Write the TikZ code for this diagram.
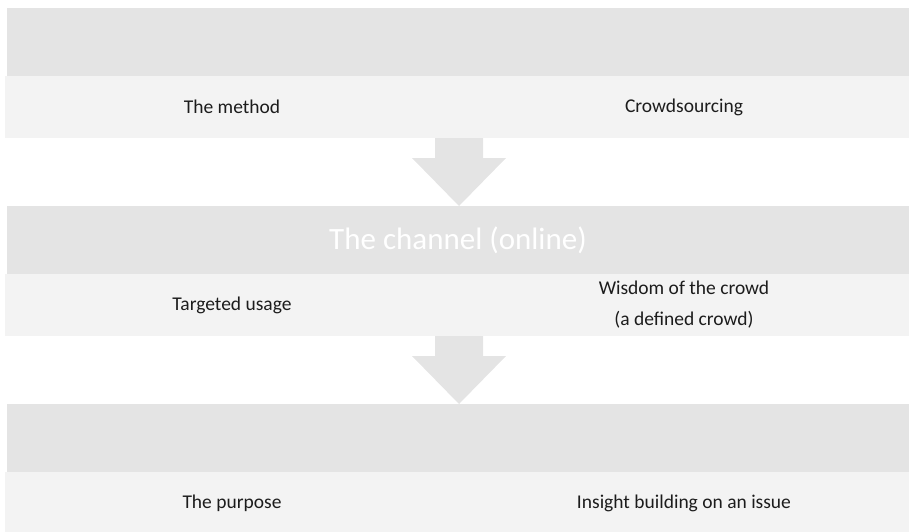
\documentclass[tikz,border=0pt]{standalone}
\usepackage{fontspec}
\setmainfont{Carlito}
\usepackage{tikz}
\usetikzlibrary{positioning, calc}
\definecolor{Band}{HTML}{E4E4E4}
\definecolor{Cell}{HTML}{F3F3F3}
\definecolor{Ink}{HTML}{1C1C1C}
\tikzset{
  headbox/.style={rectangle, fill=Band, inner sep=0pt, outer sep=0pt,
                  minimum width=902pt, minimum height=68pt,
                  font=\fontsize{31}{36}\selectfont, text=white},
  cellbox/.style={rectangle, fill=Cell, inner sep=0pt, outer sep=0pt,
                  minimum width=454pt, minimum height=62pt,
                  font=\fontsize{19.5}{31}\selectfont, text=Ink, align=center},
}

\begin{document}
\begin{tikzpicture}[
        flowarr/.style={fill=Band}
      ]
        \useasboundingbox (0,0) rectangle (909pt,-531pt);
        % first band: method
        \node[headbox, anchor=north west] (hd1) at (7pt,-8pt) {};
        \node[cellbox, below=0pt of hd1.south west, anchor=north west, xshift=-2pt] (m1) {The method};
        \node[cellbox, minimum width=450pt, right=0pt of m1] (c1) {Crowdsourcing};
        % second band: channel
        \node[headbox, below=68pt of m1.south west, anchor=north west, xshift=2pt] (hd2) {The channel (online)};
        \node[cellbox, below=0pt of hd2.south west, anchor=north west, xshift=-2pt] (t2) {Targeted usage};
        \node[cellbox, minimum width=450pt, right=0pt of t2] (w2) {Wisdom of the crowd\\(a defined crowd)};
        % third band: purpose
        \node[headbox, below=68pt of t2.south west, anchor=north west, xshift=2pt] (hd3) {};
        \node[cellbox, below=0pt of hd3.south west, anchor=north west, xshift=-2pt] (p3) {The purpose};
        \node[cellbox, minimum width=450pt, right=0pt of p3] (i3) {Insight building on an issue};
        % block arrows between the bands
        \fill[flowarr] ($(m1.south east)+(-24pt,0)$) -- ($(m1.south east)+(24pt,0)$)
          -- ($(m1.south east |- hd2.north)+(24pt,48pt)$) -- ($(m1.south east |- hd2.north)+(47pt,48pt)$)
          -- (m1.south east |- hd2.north)
          -- ($(m1.south east |- hd2.north)+(-47pt,48pt)$) -- ($(m1.south east |- hd2.north)+(-24pt,48pt)$) -- cycle;
        \fill[flowarr] ($(t2.south east)+(-24pt,0)$) -- ($(t2.south east)+(24pt,0)$)
          -- ($(t2.south east |- hd3.north)+(24pt,48pt)$) -- ($(t2.south east |- hd3.north)+(47pt,48pt)$)
          -- (t2.south east |- hd3.north)
          -- ($(t2.south east |- hd3.north)+(-47pt,48pt)$) -- ($(t2.south east |- hd3.north)+(-24pt,48pt)$) -- cycle;
      \end{tikzpicture}
\end{document}
